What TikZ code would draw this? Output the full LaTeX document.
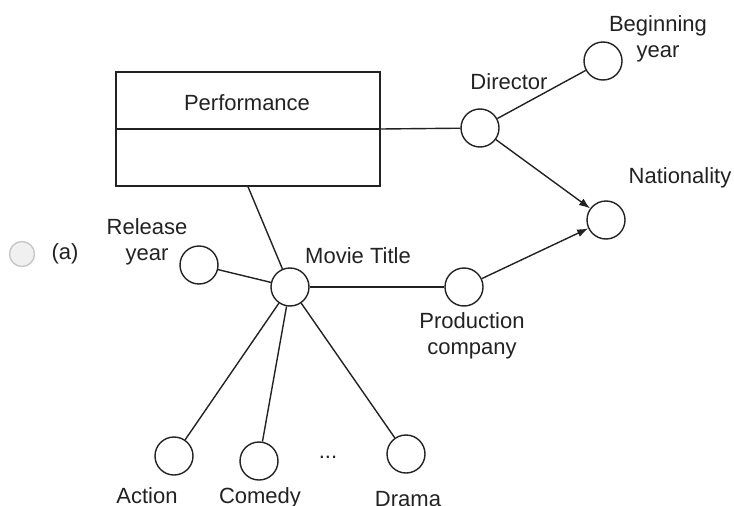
\documentclass[tikz,border=0pt]{standalone}
\usepackage{fontspec}
\setmainfont{Liberation Sans}
\usetikzlibrary{arrows.meta}
\definecolor{ink}{HTML}{222222}
\begin{document}
\begin{tikzpicture}[x=1pt,y=-1pt,
  attr/.style={circle,draw=ink,line width=1.4pt,minimum size=38pt,inner sep=0pt},
  lbl/.style={text=ink,font=\fontsize{22}{26}\selectfont,inner sep=0pt},
  lbl2/.style={lbl,align=center,anchor=base},
  conn/.style={draw=ink,line width=1.4pt},
  arr/.style={conn,-{Latex[length=11pt,width=8pt]}},
  radio/.style={circle,draw=black!22,fill=black!6,line width=1.4pt,minimum size=25pt,inner sep=0pt}]
\useasboundingbox (0,0) rectangle (734,506);
% entity box
\node[draw=ink,line width=1.4pt,minimum width=264pt,minimum height=114pt,inner sep=0pt] (perf) at (248,129) {};
\draw[conn] (perf.west) -- (perf.east);
\node[lbl,anchor=base] (perfT) at (247,110) {Performance};
% attribute circles
\node[attr] (dir) at (480,128) {};
\node[attr] (beg) at (603,61) {};
\node[attr] (nat) at (606,220) {};
\node[attr] (movie) at (290,287) {};
\node[attr] (rel) at (199,265) {};
\node[attr] (prod) at (464,287) {};
\node[attr] (act) at (174,456) {};
\node[attr] (com) at (259,461) {};
\node[attr] (dra) at (406,454) {};
% labels (anchor=base is the baseline of the last line)
\node[lbl,anchor=base] (dirT) at (509,89) {Director};
\node[lbl2] (begT) at (658,57) {Beginning\\year};
\node[lbl,anchor=base] (natT) at (680,183) {Nationality};
\node[lbl,anchor=base] (movT) at (358,263) {Movie Title};
\node[lbl2] (relT) at (147,260) {Release\\year};
\node[lbl2] (prodT) at (472,354) {Production\\company};
\node[lbl,anchor=base] (actT) at (147,503) {Action};
\node[lbl,anchor=base] (comT) at (260,503) {Comedy};
\node[lbl,anchor=base] (draT) at (408,506) {Drama};
\node[lbl] (dots) at (328,457) {...};
% radio and option label
\node[radio] (rb) at (22,254) {};
\node[lbl] (optA) at (65,254) {(a)};
% connectors
\draw[conn] (perf.east) -- (dir);
\draw[conn] (perf.south) -- (movie);
\draw[conn] (dir) -- (beg);
\draw[arr] (dir) -- (nat);
\draw[conn] (movie) -- (prod);
\draw[arr] (prod) -- (nat);
\draw[conn] (rel) -- (movie);
\draw[conn] (movie) -- (act);
\draw[conn] (movie) -- (com);
\draw[conn] (movie) -- (dra);
\end{tikzpicture}
\end{document}
